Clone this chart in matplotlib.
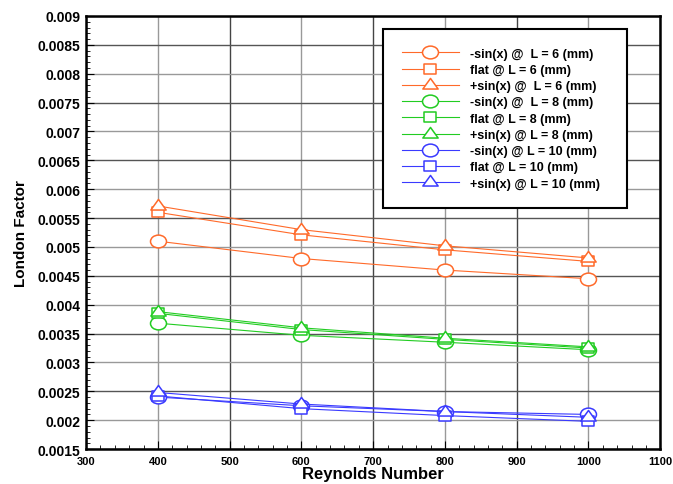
import matplotlib
matplotlib.use("Agg")
import matplotlib.pyplot as plt
from matplotlib.ticker import MultipleLocator
from matplotlib.path import Path
from matplotlib.transforms import Affine2D

plt.rcParams['font.family'] = ['Liberation Sans', 'DejaVu Sans']
plt.rcParams['font.weight'] = 'bold'

# Reynolds numbers
re = [400, 600, 800, 1000]

# London factor, L = 6 mm
l6_neg = [0.00510, 0.00480, 0.00460, 0.00445]
l6_flat = [0.00560, 0.00521, 0.00495, 0.00475]
l6_pos = [0.00571, 0.00530, 0.00502, 0.00481]

# L = 8 mm
l8_neg = [0.00368, 0.00347, 0.00335, 0.00322]
l8_flat = [0.00385, 0.00357, 0.00340, 0.00325]
l8_pos = [0.00388, 0.00360, 0.00342, 0.00327]

# L = 10 mm
l10_neg = [0.00240, 0.00225, 0.00215, 0.00210]
l10_flat = [0.00242, 0.00220, 0.00208, 0.00198]
l10_pos = [0.00248, 0.00228, 0.00215, 0.00205]

orange = '#FF6A2A'
green = '#22CC22'
blue = '#3A3AFF'

# the original picture is stretched sideways, so the markers are too
stretch = Affine2D().scale(1.25, 1.0)
circ = stretch.transform_path(Path.unit_circle())
sq = (Affine2D().translate(-0.5, -0.5) + stretch).transform_path(Path.unit_rectangle())
tri = stretch.transform_path(Path.unit_regular_polygon(3))

series = [
    (l6_neg, orange, circ, 11.5, '-sin(x) @  L = 6 (mm)'),
    (l6_flat, orange, sq, 9, 'flat @ L = 6 (mm)'),
    (l6_pos, orange, tri, 11, '+sin(x) @  L = 6 (mm)'),
    (l8_neg, green, circ, 11.5, '-sin(x) @  L = 8 (mm)'),
    (l8_flat, green, sq, 9, 'flat @ L = 8 (mm)'),
    (l8_pos, green, tri, 11, '+sin(x) @ L = 8 (mm)'),
    (l10_neg, blue, circ, 11.5, '-sin(x) @ L = 10 (mm)'),
    (l10_flat, blue, sq, 9, 'flat @ L = 10 (mm)'),
    (l10_pos, blue, tri, 11, '+sin(x) @ L = 10 (mm)'),
]

fig = plt.figure(figsize=(6.73, 4.85), dpi=100)
ax = fig.add_axes([0.128, 0.072, 0.853, 0.893])

for ys, c, m, ms, lab in series:
    ax.plot(re, ys, color=c, lw=0.8, marker=m, ms=ms, mfc='white',
            mec=c, mew=1.1, label=lab, zorder=3)

ax.set_xlim(300, 1100)
ax.set_ylim(0.0015, 0.009)
ax.xaxis.set_major_locator(MultipleLocator(100))
ax.xaxis.set_minor_locator(MultipleLocator(20))
ax.yaxis.set_major_locator(MultipleLocator(0.0005))
ax.yaxis.set_minor_locator(MultipleLocator(0.0001))
ax.yaxis.set_major_formatter(plt.FuncFormatter(lambda v, p: ('%.4f' % v).rstrip('0')))

ax.grid(True, which='major', color='#999999', lw=1.0)
for gl in ax.get_xgridlines()[1::2]:
    gl.set_color('#444444')
for gl in ax.get_ygridlines()[1::2]:
    gl.set_color('#555555')

ax.tick_params(which='both', direction='in')
ax.tick_params(which='major', length=6)
ax.tick_params(which='minor', length=3)
ax.tick_params(axis='x', labelsize=8, pad=5)
ax.tick_params(axis='y', labelsize=10, pad=4)
for s in ax.spines.values():
    s.set_linewidth(1.8)

ax.set_xlabel('Reynolds Number', fontsize=12, fontweight='bold', labelpad=0)
ax.set_ylabel('London Factor', fontsize=11, fontweight='bold', labelpad=7)

leg = ax.legend(loc='upper left', bbox_to_anchor=(0.517, 0.554, 0.426, 0.416),
                mode='expand', fontsize=9, frameon=True, fancybox=False,
                edgecolor='black', borderpad=1.5, labelspacing=0.34,
                handlelength=4.6, handletextpad=0.9, borderaxespad=0)
leg.get_frame().set_linewidth(1.5)
leg.get_frame().set_facecolor('white')
leg.get_frame().set_alpha(1)
for t in leg.get_texts():
    t.set_fontweight('bold')

fig.savefig('out.png', dpi=100)
